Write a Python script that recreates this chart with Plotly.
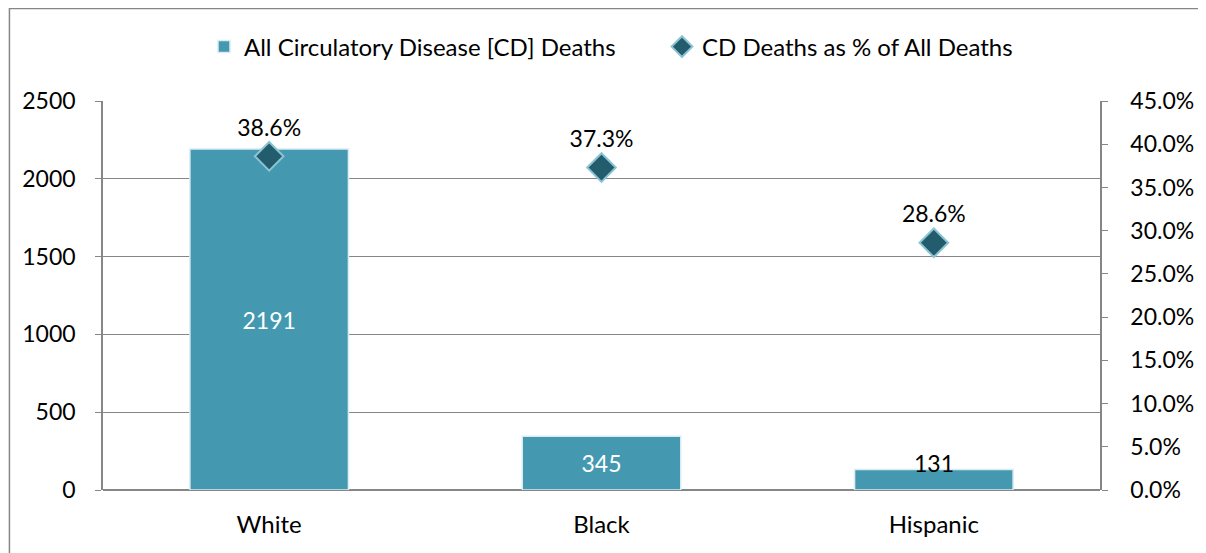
import plotly.graph_objects as go

categories = ["White", "Black", "Hispanic"]
cd_deaths = [2191, 345, 131]
cd_pct = [38.6, 37.3, 28.6]

FONT = "Lato"
GRAY = "#868686"

# page has an 8px body margin; plot area should sit at page x 100..1107, y 101..490
SHIFT = 3
W, H = 1198, 545
ML, MT = 92 + SHIFT, 93
MR = W - (1107 - 8) - SHIFT
MB = H - (490 - 8)
PW = W - ML - MR
PH = H - MT - MB

def px_to_paper_x(px):
    return (px - 8 - ML) / PW

def px_to_paper_y(py):
    return (H - MB - (py - 8)) / PH

bar_text = [str(v) for v in cd_deaths[:2]] + [""]

fig = go.Figure()
fig.add_trace(go.Bar(
    x=categories, y=cd_deaths, name="All Circulatory Disease [CD] Deaths",
    marker=dict(color="#4499B0", line=dict(color="#D9ECF2", width=1.5)),
    text=bar_text, textposition="inside",
    insidetextanchor="middle",
    textfont=dict(color="white", size=23, family=FONT),
    constraintext="none",
))
fig.add_trace(go.Scatter(
    x=categories, y=cd_pct, name="CD Deaths as % of All Deaths", yaxis="y2",
    mode="markers+text",
    marker=dict(symbol="diamond", size=22, color="#235C6C",
                line=dict(color="#8CC4D3", width=2)),
    text=[f"{v:.1f}%" for v in cd_pct], textposition="top center",
    textfont=dict(color="black", size=23, family=FONT),
    cliponaxis=False,
))

fig.update_layout(
    width=W, height=H,
    margin=dict(l=ML, r=MR, t=MT, b=MB),
    paper_bgcolor="white", plot_bgcolor="white",
    font=dict(family=FONT, size=23, color="black"),
    bargap=0.523,
    showlegend=True,
    legend=dict(orientation="h", x=px_to_paper_x(205), xanchor="left",
                y=px_to_paper_y(47), yanchor="middle",
                font=dict(size=24, family=FONT), itemwidth=30, traceorder="normal",
                entrywidth=413, entrywidthmode="pixels",
                bgcolor="rgba(0,0,0,0)"),
    xaxis=dict(showline=False, ticks="", showgrid=False, zeroline=False,
               tickfont=dict(size=24), ticklabelstandoff=18),
    yaxis=dict(range=[0, 2500], dtick=500, showgrid=True, gridcolor=GRAY, gridwidth=1,
               showline=True, linecolor=GRAY, linewidth=1.5, ticks="outside",
               ticklen=6, tickcolor=GRAY, zeroline=True, zerolinecolor=GRAY,
               zerolinewidth=1.5, tickfont=dict(size=23), ticklabelstandoff=15),
    yaxis2=dict(range=[0, 45], dtick=5, overlaying="y", side="right", showgrid=False,
                showline=True, linecolor=GRAY, linewidth=1.5, ticks="outside",
                ticklen=6, tickcolor=GRAY, zeroline=False,
                ticksuffix="%", tickformat=".1f", tickfont=dict(size=23),
                ticklabelstandoff=18),
    annotations=[dict(x=categories[2], y=cd_deaths[2], xref="x", yref="y",
                      text=str(cd_deaths[2]), showarrow=False,
                      yanchor="middle", yshift=7,
                      font=dict(size=23, family=FONT, color="black"))],
    shapes=[dict(type="rect", xref="paper", yref="paper",
                 x0=px_to_paper_x(8.5), x1=px_to_paper_x(1215),
                 y0=px_to_paper_y(565), y1=px_to_paper_y(8.5),
                 line=dict(color=GRAY, width=1.5), fillcolor="rgba(0,0,0,0)",
                 layer="below")],
)

fig.write_html("out.html")
